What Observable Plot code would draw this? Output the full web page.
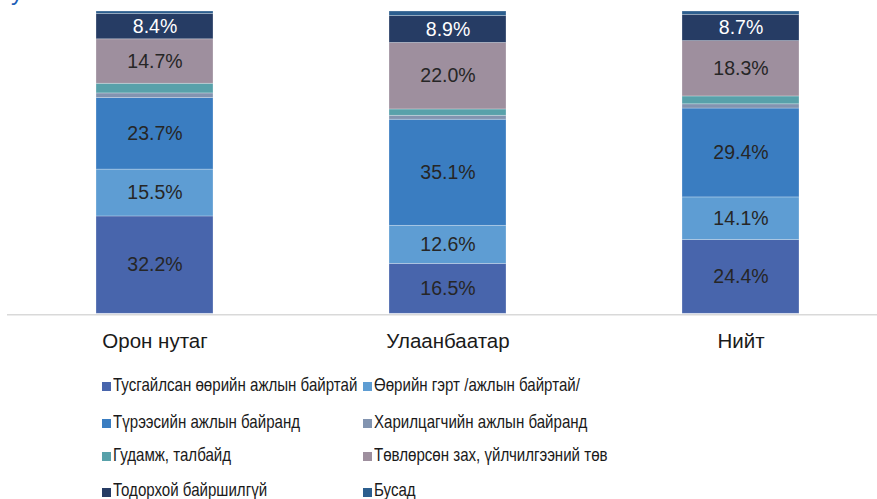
<!DOCTYPE html>
<html>
<head>
<meta charset="utf-8">
<script src="https://cdn.jsdelivr.net/npm/d3@7"></script>
<script src="https://cdn.jsdelivr.net/npm/@observablehq/plot@0.6"></script>
<style>
  html, body { margin: 0; padding: 0; background: #fff; overflow: hidden; }
  #wrap { position: relative; width: 877px; height: 499px; font-family: "Liberation Sans", Arial, sans-serif; }
  #title { position: absolute; left: 11px; top: -20px; font: 24px "Liberation Sans", Arial, sans-serif; line-height: 24px; color: #1F5FB8; }
  #chart { position: absolute; left: 0; top: 0; }
  .lg { position: absolute; font-size: 18.5px; color: #1a1a1a; white-space: nowrap; line-height: 1; transform: scaleX(0.815); transform-origin: 0 0; }
  .sw { position: absolute; width: 9px; height: 9px; }
</style>
</head>
<body>
<div id="wrap">
  <div id="title">у</div>
  <div id="chart"></div>
</div>
<script>
const categories = ["Орон нутаг", "Улаанбаатар", "Нийт"];
const seriesNames = [
  "Тусгайлсан өөрийн ажлын байртай",
  "Өөрийн гэрт /ажлын байртай/",
  "Түрээсийн ажлын байранд",
  "Харилцагчийн ажлын байранд",
  "Гудамж, талбайд",
  "Төвлөрсөн зах, үйлчилгээний төв",
  "Тодорхой байршилгүй",
  "Бусад"
];
const seriesColors = ["#4865AC", "#5E9DD3", "#3A7DC1", "#8294B0", "#58A1AA", "#9E8F9E", "#263C64", "#2C5E8E"];
// values per series, in category order
const tusgailsan = [32.2, 16.5, 24.4];
const ooriinGert = [15.5, 12.6, 14.1];
const tureesiin = [23.7, 35.1, 29.4];
const kharilts = [1.5, 1.3, 1.4];
const gudamj = [3.2, 2.1, 2.6];
const tovlorson = [14.7, 22.0, 18.3];
const todorkhoi = [8.4, 8.9, 8.7];
const busad = [0.8, 1.5, 1.1];
const seriesValues = [tusgailsan, ooriinGert, tureesiin, kharilts, gudamj, tovlorson, todorkhoi, busad];
const labeledSeries = ["Тусгайлсан өөрийн ажлын байртай", "Өөрийн гэрт /ажлын байртай/", "Түрээсийн ажлын байранд", "Төвлөрсөн зах, үйлчилгээний төв", "Тодорхой байршилгүй"];
const whiteLabelSeries = ["Тодорхой байршилгүй"];

const data = [];
seriesNames.forEach((s, si) => {
  categories.forEach((c, ci) => {
    data.push({category: c, series: s, value: seriesValues[si][ci]});
  });
});

const chart = Plot.plot({
  width: 877,
  height: 358,
  marginTop: 11,
  marginBottom: 44.7,
  marginLeft: 7,
  marginRight: 0,
  style: {fontFamily: "'Liberation Sans', Arial, sans-serif", background: "transparent"},
  x: {domain: categories, range: [7.25, 887.75], paddingInner: 0.6, paddingOuter: 0.3, label: null},
  y: {domain: [0, 100], axis: null},
  color: {domain: seriesNames, range: seriesColors},
  marks: [
    Plot.ruleY([0], {stroke: "#d9d9d9", strokeWidth: 1.5, dy: 1}),
    Plot.barY(data, {x: "category", y: "value", z: "series", fill: "series", order: null,
      stroke: "#ffffff", strokeOpacity: 0.35, strokeWidth: 0.75}),
    Plot.text(data, Plot.stackY({x: "category", y: "value", z: "series", order: null,
      text: d => labeledSeries.includes(d.series) ? d.value.toFixed(1) + "%" : null,
      fill: d => whiteLabelSeries.includes(d.series) ? "#ffffff" : "#262626",
      fontSize: 19.5})),
    Plot.axisX({tickSize: 0, tickPadding: 20, fontSize: 20.5, fill: "#1a1a1a", label: null})
  ]
});
document.getElementById("chart").appendChild(chart);

// legend
const wrap = document.getElementById("wrap");
const colX = [101.7, 362.7];
const baseY = [391.7, 428.3, 461.7, 497];
seriesNames.forEach((s, i) => {
  const col = i % 2, row = Math.floor(i / 2);
  const sw = document.createElement("div");
  sw.className = "sw";
  sw.style.left = colX[col] + "px";
  sw.style.top = (baseY[row] - 9.5) + "px";
  sw.style.background = seriesColors[i];
  wrap.appendChild(sw);
  const t = document.createElement("div");
  t.className = "lg";
  t.textContent = s;
  t.style.left = (colX[col] + 11.5) + "px";
  t.style.top = (baseY[row] - 18.5 * 0.847) + "px";
  wrap.appendChild(t);
});
</script>
</body>
</html>
